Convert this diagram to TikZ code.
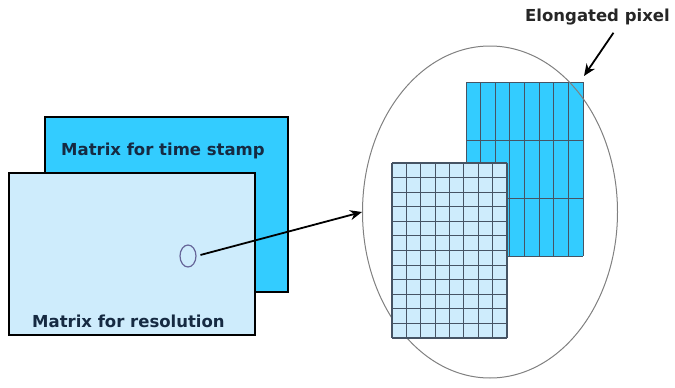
\documentclass[tikz,border=0pt]{standalone}
\usepackage{fontspec}
\setmainfont{DejaVu Sans}
\usepackage{tikz}
\usetikzlibrary{arrows.meta,shapes.geometric}
\usepackage{xcolor}
\definecolor{stampblue}{RGB}{51,204,255}
\definecolor{resblue}{RGB}{206,236,252}
\definecolor{labelnavy}{RGB}{22,42,66}
\definecolor{gridgray}{RGB}{70,84,100}

\begin{document}
\begin{tikzpicture}[x=1pt,y=-1pt,>={Stealth[length=12pt,width=10pt]},font=\fontsize{16.5}{20}\selectfont\bfseries,every node/.style={inner sep=0pt}]
\useasboundingbox (0,0) rectangle (675,388);
\node(stamp)[draw,line width=2pt,fill=stampblue,minimum width=243pt,minimum height=175pt] at (166.5,204.5){};
\node(res)[draw,line width=2pt,fill=resblue,minimum width=246pt,minimum height=162pt] at (132,254){};
\node(stamplbl)[anchor=base west,text=labelnavy] at (61,155){Matrix for time stamp};
\node(reslbl)[anchor=base west,text=labelnavy] at (32,327){Matrix for resolution};
\node(spot)[draw=gray!80!blue,line width=1.2pt,ellipse,minimum width=16pt,minimum height=22pt] at (188,256){};
% elongated pixels
\fill[stampblue] (466,82) rectangle (583,256);
\foreach \i in {0,...,8} \draw[gridgray,line width=1pt] ({466+\i*117/8},82) -- ({466+\i*117/8},256);
\foreach \j in {0,...,3} \draw[gridgray,line width=1pt] (466,{82+\j*58}) -- (583,{82+\j*58});
\node(lens)[draw=gray,line width=1pt,ellipse,minimum width=255pt,minimum height=332pt] at (490,212){};
% fine pixels
\fill[resblue] (392,163) rectangle (507,338);
\foreach \i in {0,...,8} \draw[gridgray,line width=1.1pt] ({392+\i*115/8},163) -- ({392+\i*115/8},338);
\foreach \j in {0,...,12} \draw[gridgray,line width=1.1pt] (392,{163+\j*175/12}) -- (507,{163+\j*175/12});
\draw[->,line width=1.8pt,shorten <=4pt](spot.east)--(lens.west);
\node(elong)[anchor=base west,text=black!85] at (525,21){Elongated pixel};
\coordinate(corner) at (584,76);
\draw[->,line width=1.8pt]([xshift=16pt,yshift=-8pt]elong.south)--(corner);
\end{tikzpicture}
\end{document}
